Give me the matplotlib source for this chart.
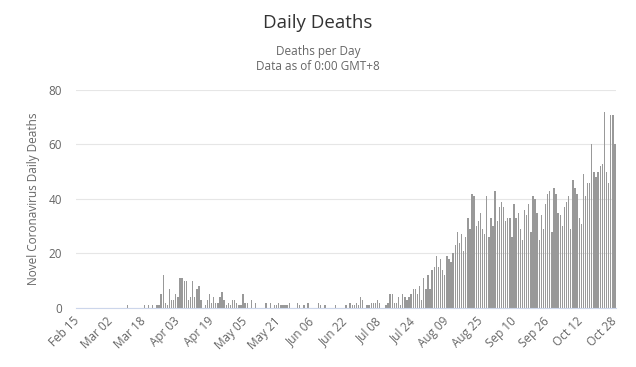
import matplotlib
matplotlib.use('Agg')
import matplotlib.pyplot as plt
import numpy as np

# daily deaths, 2020-02-15 .. 2020-10-28
feb = [0] * 15
mar = [0, 0, 0, 0, 0, 0, 0, 0, 0, 1, 0, 0, 0, 0, 0, 0, 0, 1, 0, 1, 0, 1, 0, 1, 1, 5, 12, 2, 1, 7, 3]
apr = [3, 5, 4, 11, 11, 10, 10, 3, 4, 10, 4, 7, 8, 3, 0, 1, 3, 5, 2, 4, 2, 2, 4, 6, 3, 1, 2, 1, 3, 3]
may = [2, 1, 1, 5, 2, 2, 0, 3, 0, 2, 0, 0, 0, 0, 2, 0, 2, 0, 1, 1, 2, 1, 1, 1, 1, 2, 0, 0, 0, 2, 1]
jun = [0, 1, 0, 2, 0, 0, 0, 0, 2, 1, 0, 1, 0, 0, 0, 0, 1, 0, 0, 0, 0, 1, 0, 2, 1, 1, 2, 1, 4, 3]
jul = [0, 1, 1, 2, 2, 2, 3, 2, 0, 0, 1, 2, 5, 5, 2, 2, 4, 1, 5, 4, 3, 4, 5, 7, 7, 5, 8, 3, 11, 7, 12]
aug = [7, 14, 15, 19, 15, 18, 14, 12, 19, 18, 17, 20, 23, 28, 24, 27, 21, 26, 33, 29, 42, 41, 30, 32,
       35, 29, 27, 41, 26, 33, 30]
sep = [43, 32, 37, 39, 37, 32, 33, 33, 26, 38, 33, 35, 29, 25, 36, 34, 38, 28, 41, 40, 35, 25, 34, 29,
       38, 42, 43, 28, 44, 42]
oct_ = [35, 34, 30, 37, 39, 41, 29, 47, 44, 42, 33, 31, 49, 41, 46, 46, 60, 50, 48, 50, 52, 53, 72, 50,
        46, 71, 71, 60]

tick_labels = ['Feb 15', 'Mar 02', 'Mar 18', 'Apr 03', 'Apr 19', 'May 05', 'May 21', 'Jun 06', 'Jun 22',
               'Jul 08', 'Jul 24', 'Aug 09', 'Aug 25', 'Sep 10', 'Sep 26', 'Oct 12', 'Oct 28']
y_ticks = [0, 20, 40, 60, 80]

deaths = feb + mar + apr + may + jun + jul + aug + sep + oct_
x = np.arange(len(deaths))

plt.rcParams['font.family'] = ['Open Sans', 'DejaVu Sans']

fig = plt.figure(figsize=(6.36, 3.67), dpi=100)
ax = fig.add_axes([0.1195, 0.1608, 0.849, 0.594])

ax.bar(x, deaths, width=0.66, color='#999999', linewidth=0, zorder=2)
ax.set_xlim(-0.5, len(deaths) - 0.5)
ax.set_ylim(0, 80)
ax.set_yticks(y_ticks)
ax.grid(axis='y', color='#e6e6e6', lw=0.8, zorder=0)

ax.set_xticks(x[::16])
ax.set_xticklabels(tick_labels, rotation=45, ha='right', va='center', rotation_mode='anchor')

for s in ['top', 'right', 'left']:
    ax.spines[s].set_visible(False)
ax.spines['bottom'].set_color('#ccd6eb')
ax.tick_params(axis='y', length=0, pad=10, colors='#666666', labelsize=8.5)
ax.tick_params(axis='x', length=0, pad=8, colors='#666666', labelsize=8.5)

fig.text(0.5, 1 - 23 / 367, 'Daily Deaths', ha='center', va='center', fontsize=13.5, color='#333333')
fig.text(0.5, 1 - 52 / 367, 'Deaths per Day', ha='center', va='center', fontsize=8.5, color='#666666')
fig.text(0.5, 1 - 67 / 367, 'Data as of 0:00 GMT+8', ha='center', va='center', fontsize=8.5, color='#666666')
fig.text(34 / 636, 1 - 199 / 367, 'Novel Coronavirus Daily Deaths', rotation=90,
         ha='center', va='center', fontsize=8.5, color='#666666')

fig.savefig('out.png', dpi=100)
